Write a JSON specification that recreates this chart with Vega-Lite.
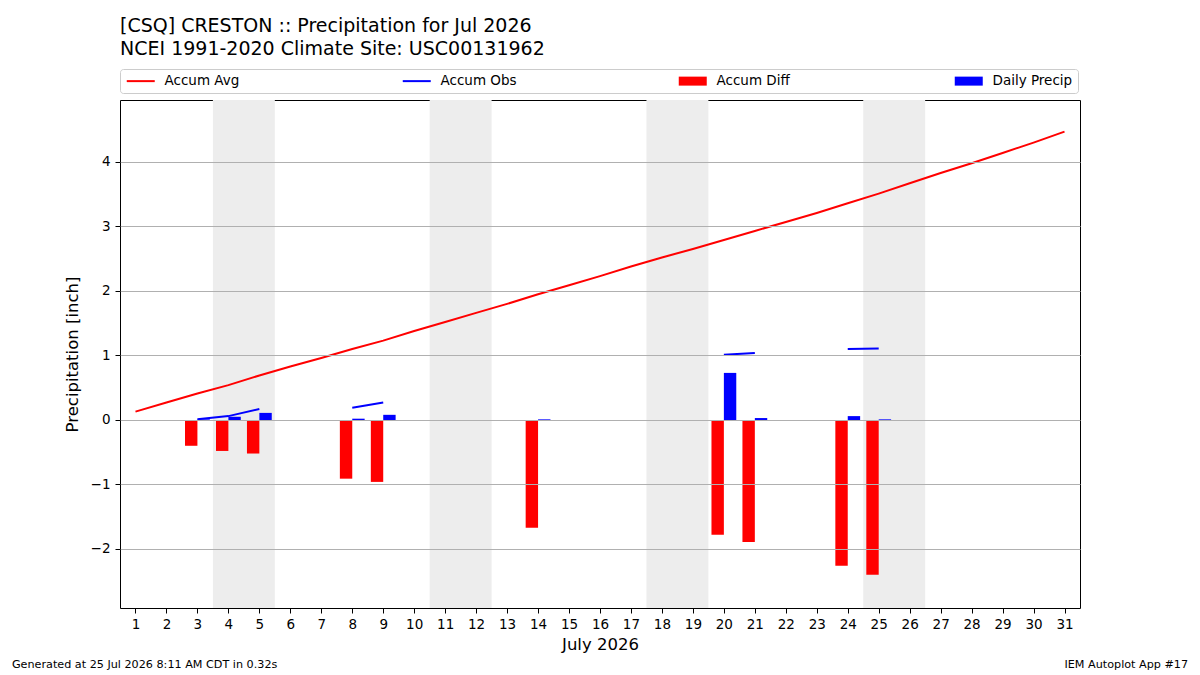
{
  "$schema": "https://vega.github.io/schema/vega-lite/v6.json",
  "width": 960,
  "height": 508,
  "autosize": "none",
  "padding": {"left": 120, "top": 100, "right": 120, "bottom": 67},
  "background": "white",
  "title": {
    "text": "[CSQ] CRESTON :: Precipitation for Jul 2026",
    "subtitle": "NCEI 1991-2020 Climate Site: USC00131962",
    "anchor": "start",
    "frame": "group",
    "font": "DejaVu Sans",
    "fontSize": 19,
    "fontWeight": "normal",
    "color": "black",
    "subtitleFont": "DejaVu Sans",
    "subtitleFontSize": 19,
    "subtitleColor": "black",
    "subtitlePadding": 4,
    "offset": 10
  },
  "config": {
    "font": "DejaVu Sans",
    "view": {"stroke": "black", "strokeWidth": 1},
    "axis": {"labelColor": "black", "titleColor": "black", "tickColor": "black", "labelFont": "DejaVu Sans", "titleFont": "DejaVu Sans"}
  },
  "datasets": {
    "days": [
      {"day": 1, "avg": 0.13, "obs": null, "diff": null, "daily": null},
      {"day": 2, "avg": 0.27, "obs": null, "diff": null, "daily": null},
      {"day": 3, "avg": 0.41, "obs": 0.01, "diff": -0.40, "daily": 0.01},
      {"day": 4, "avg": 0.54, "obs": 0.06, "diff": -0.48, "daily": 0.05},
      {"day": 5, "avg": 0.69, "obs": 0.17, "diff": -0.52, "daily": 0.11},
      {"day": 6, "avg": 0.83, "obs": null, "diff": null, "daily": null},
      {"day": 7, "avg": 0.96, "obs": null, "diff": null, "daily": null},
      {"day": 8, "avg": 1.10, "obs": 0.19, "diff": -0.91, "daily": 0.02},
      {"day": 9, "avg": 1.23, "obs": 0.27, "diff": -0.96, "daily": 0.08},
      {"day": 10, "avg": 1.38, "obs": null, "diff": null, "daily": null},
      {"day": 11, "avg": 1.52, "obs": null, "diff": null, "daily": null},
      {"day": 12, "avg": 1.66, "obs": null, "diff": null, "daily": null},
      {"day": 13, "avg": 1.80, "obs": null, "diff": null, "daily": null},
      {"day": 14, "avg": 1.95, "obs": 0.28, "diff": -1.67, "daily": 0.01},
      {"day": 15, "avg": 2.09, "obs": null, "diff": null, "daily": null},
      {"day": 16, "avg": 2.23, "obs": null, "diff": null, "daily": null},
      {"day": 17, "avg": 2.38, "obs": null, "diff": null, "daily": null},
      {"day": 18, "avg": 2.52, "obs": null, "diff": null, "daily": null},
      {"day": 19, "avg": 2.65, "obs": null, "diff": null, "daily": null},
      {"day": 20, "avg": 2.79, "obs": 1.01, "diff": -1.78, "daily": 0.73},
      {"day": 21, "avg": 2.93, "obs": 1.04, "diff": -1.89, "daily": 0.03},
      {"day": 22, "avg": 3.07, "obs": null, "diff": null, "daily": null},
      {"day": 23, "avg": 3.21, "obs": null, "diff": null, "daily": null},
      {"day": 24, "avg": 3.36, "obs": 1.10, "diff": -2.26, "daily": 0.06},
      {"day": 25, "avg": 3.51, "obs": 1.11, "diff": -2.40, "daily": 0.01},
      {"day": 26, "avg": 3.67, "obs": null, "diff": null, "daily": null},
      {"day": 27, "avg": 3.83, "obs": null, "diff": null, "daily": null},
      {"day": 28, "avg": 3.98, "obs": null, "diff": null, "daily": null},
      {"day": 29, "avg": 4.14, "obs": null, "diff": null, "daily": null},
      {"day": 30, "avg": 4.30, "obs": null, "diff": null, "daily": null},
      {"day": 31, "avg": 4.47, "obs": null, "diff": null, "daily": null}
    ],
    "weekends": [
      {"start": 3.5, "end": 5.5},
      {"start": 10.5, "end": 12.5},
      {"start": 17.5, "end": 19.5},
      {"start": 24.5, "end": 26.5}
    ],
    "footer": [
      {"text": "Generated at 25 Jul 2026 8:11 AM CDT in 0.32s", "side": "left"},
      {"text": "IEM Autoplot App #17", "side": "right"}
    ]
  },
  "layer": [
    {
      "data": {"name": "weekends"},
      "mark": {"type": "rect", "color": "#ededed"},
      "encoding": {
        "x": {"field": "start", "type": "quantitative", "scale": {"domain": [0.5, 31.5], "nice": false, "zero": false, "padding": 0},
          "axis": {"values": [1,2,3,4,5,6,7,8,9,10,11,12,13,14,15,16,17,18,19,20,21,22,23,24,25,26,27,28,29,30,31], "tickCount": 31, "format": "d",
            "title": "July 2026", "titleFontSize": 16.5, "titleFontWeight": "normal", "titlePadding": 6,
            "labelFontSize": 13.5, "labelPadding": 4, "tickSize": 5, "grid": false, "domain": false, "labelAngle": 0, "labelFlush": false, "labelOverlap": false}},
        "x2": {"field": "end"}
      }
    },
    {
      "data": {"name": "days"},
      "transform": [{"filter": "datum.diff != null"}],
      "mark": {"type": "bar", "width": 12.4, "xOffset": -6.2},
      "encoding": {
        "x": {"field": "day", "type": "quantitative", "scale": {"domain": [0.5, 31.5], "nice": false, "zero": false, "padding": 0},
          "axis": {"values": [1,2,3,4,5,6,7,8,9,10,11,12,13,14,15,16,17,18,19,20,21,22,23,24,25,26,27,28,29,30,31], "tickCount": 31, "format": "d",
            "title": "July 2026", "titleFontSize": 16.5, "titleFontWeight": "normal", "titlePadding": 6,
            "labelFontSize": 13.5, "labelPadding": 4, "tickSize": 5, "grid": false, "domain": false, "labelAngle": 0, "labelFlush": false, "labelOverlap": false}},
        "y": {"field": "diff", "type": "quantitative", "stack": null,
          "scale": {"domain": [-2.915, 4.961], "nice": false, "zero": false, "padding": 0},
          "axis": {"values": [-2,-1,0,1,2,3,4], "format": "d", "title": "Precipitation [inch]", "titleFontSize": 16.5, "titleFontWeight": "normal", "titlePadding": 10,
            "labelFontSize": 13.5, "labelPadding": 5, "tickSize": 5, "grid": true, "gridColor": "#b0b0b0", "gridWidth": 1, "domain": false, "zindex": 1}},
        "y2": {"datum": 0},
        "color": {"datum": "Accum Diff", "type": "nominal",
          "scale": {"domain": ["Accum Avg", "Accum Obs", "Accum Diff", "Daily Precip"], "range": ["#ff0000", "#0000ff", "#ff0000", "#0000ff"]},
          "legend": {
            "orient": "none", "legendX": 0, "legendY": -31, "direction": "horizontal", "columns": 4, "gridAlign": "all",
            "columnPadding": 153, "padding": 5, "strokeColor": "#cccccc", "fillColor": "white", "cornerRadius": 3,
            "symbolSize": 100, "symbolOffset": 9, "labelOffset": 17, "labelFontSize": 13.5, "labelFont": "DejaVu Sans", "labelColor": "black",
            "title": null,
            "encode": {"symbols": {"update": {
              "shape": {"signal": "datum.value == 'Accum Avg' || datum.value == 'Accum Obs' ? 'M-2.8,0H2.8' : 'M-2.8,-0.9H2.8V0.9H-2.8Z'"},
              "fill": {"signal": "datum.value == 'Accum Avg' || datum.value == 'Accum Obs' ? 'transparent' : scale('color', datum.value)"},
              "stroke": {"signal": "scale('color', datum.value)"},
              "strokeWidth": {"signal": "datum.value == 'Accum Avg' || datum.value == 'Accum Obs' ? 2 : 0"},
              "opacity": {"value": 1}
            }}}
          }}
      }
    },
    {
      "data": {"name": "days"},
      "transform": [{"filter": "datum.daily != null"}],
      "mark": {"type": "bar", "width": 12.4, "xOffset": 6.2},
      "encoding": {
        "x": {"field": "day", "type": "quantitative"},
        "y": {"field": "daily", "type": "quantitative", "stack": null},
        "y2": {"datum": 0},
        "color": {"datum": "Daily Precip", "type": "nominal"}
      }
    },
    {
      "data": {"name": "days"},
      "mark": {"type": "line", "strokeWidth": 2},
      "encoding": {
        "x": {"field": "day", "type": "quantitative"},
        "y": {"field": "avg", "type": "quantitative"},
        "color": {"datum": "Accum Avg", "type": "nominal"}
      }
    },
    {
      "data": {"name": "days"},
      "mark": {"type": "line", "strokeWidth": 2, "invalid": "break-paths-show-domains"},
      "encoding": {
        "x": {"field": "day", "type": "quantitative"},
        "y": {"field": "obs", "type": "quantitative"},
        "color": {"datum": "Accum Obs", "type": "nominal"}
      }
    },
    {
      "data": {"name": "footer"},
      "transform": [{"filter": "datum.side == 'left'"}],
      "mark": {"type": "text", "align": "left", "baseline": "alphabetic", "fontSize": 11.2, "font": "DejaVu Sans", "color": "black"},
      "encoding": {
        "x": {"datum": -2.99, "type": "quantitative"},
        "y": {"datum": -3.845, "type": "quantitative"},
        "text": {"field": "text"}
      }
    },
    {
      "data": {"name": "footer"},
      "transform": [{"filter": "datum.side == 'right'"}],
      "mark": {"type": "text", "align": "right", "baseline": "alphabetic", "fontSize": 11.2, "font": "DejaVu Sans", "color": "black"},
      "encoding": {
        "x": {"datum": 34.99, "type": "quantitative"},
        "y": {"datum": -3.845, "type": "quantitative"},
        "text": {"field": "text"}
      }
    }
  ]
}
